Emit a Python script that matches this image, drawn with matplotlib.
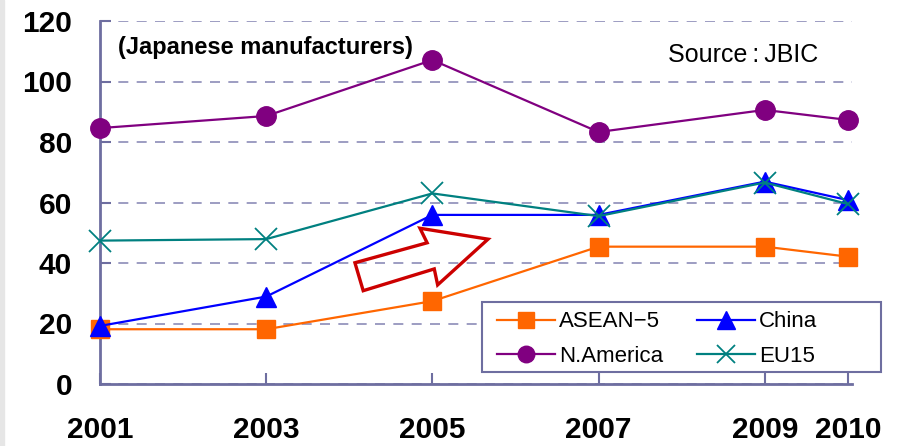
import matplotlib.pyplot as plt
from matplotlib.patches import Polygon, Rectangle

# survey years and index values per region
years = [2001, 2003, 2005, 2007, 2009, 2010]
asean5 = [18.1, 18.1, 27.4, 45.4, 45.4, 42.1]
china = [19.2, 28.9, 55.9, 55.9, 66.9, 60.8]
n_america = [84.6, 88.6, 107.1, 83.3, 90.6, 87.3]
eu15 = [47.4, 47.9, 63.0, 55.5, 66.6, 59.5]

axis_col = '#6e6ea0'

plt.rcParams['font.family'] = ['Liberation Sans', 'Noto Sans CJK JP', 'DejaVu Sans']

fig = plt.figure(figsize=(9.1, 4.46), dpi=100)
fig.patches.append(Rectangle((0, 0), 4 / 910, 1, transform=fig.transFigure,
                             color='#e6e6e6', zorder=0))
ax = fig.add_axes([100 / 910, 62 / 446, 752 / 910, 363 / 446])

l_asean, = ax.plot(years, asean5, color='#ff6600', lw=1.6, marker='s', ms=13,
                   label='ASEAN\u22125', clip_on=False, zorder=3)
l_china, = ax.plot(years, china, color='#0000ff', lw=1.6, marker='^', ms=15,
                   label='China', clip_on=False, zorder=4)
l_na, = ax.plot(years, n_america, color='#800080', lw=1.6, marker='o', ms=14,
                label='N.America', clip_on=False, zorder=3)
l_eu, = ax.plot(years, eu15, color='#008080', lw=1.6, marker='x', ms=16, mew=1.3,
                label='EU15', clip_on=False, zorder=5)

ax.set_xlim(2001, 2010.05)
ax.set_ylim(0, 120)
ax.set_xticks(years)
ax.set_yticks(range(0, 121, 20))
ax.tick_params(axis='both', direction='in', length=8, width=1.5, color=axis_col,
               labelsize=21.5)
ax.tick_params(axis='y', pad=20)
ax.tick_params(axis='x', pad=23)
for lab in ax.get_xticklabels() + ax.get_yticklabels():
    lab.set_fontweight('bold')

for side in ['top', 'right']:
    ax.spines[side].set_visible(False)
for side in ['left', 'bottom']:
    ax.spines[side].set_color(axis_col)
    ax.spines[side].set_linewidth(2)

ax.yaxis.grid(True, linestyle=(0, (6, 5)), color='#8c8cb8', lw=1.2)
ax.set_axisbelow(True)

ax.text(0.024, 0.928, '(Japanese manufacturers)', transform=ax.transAxes,
        fontsize=17, fontweight='bold', va='center', ha='left')
ax.text(0.955, 0.906, 'Source\u2009:\u2009JBIC', transform=ax.transAxes,
        fontsize=18, va='center', ha='right')

# hollow red arrow
arrow = [(0.339, 0.334), (0.350, 0.257), (0.4445, 0.317), (0.449, 0.273),
         (0.516, 0.399), (0.4255, 0.429), (0.435, 0.389)]
ax.add_patch(Polygon(arrow, closed=True, fill=False, edgecolor='#cc0000',
                     lw=2.4, transform=ax.transAxes, clip_on=False, zorder=6))

# legend box drawn separately so it can be wider than its entries
ax.add_patch(Rectangle((0.508, 0.033), 0.531, 0.193, transform=ax.transAxes,
                       facecolor='white', edgecolor=axis_col, lw=1.5,
                       clip_on=False, zorder=7))
leg = ax.legend([l_asean, l_na, l_china, l_eu],
                ['ASEAN\u22125', 'N.America', 'China', 'EU15'],
                loc='center left', bbox_to_anchor=(0.528, 0.124),
                ncol=2, fontsize=16, frameon=False,
                handlelength=2.6, handletextpad=0.2, borderpad=0,
                borderaxespad=0, labelspacing=0.6, columnspacing=1.5,
                markerscale=0.85)
leg.set_zorder(8)

fig.savefig('out.png', dpi=100)
